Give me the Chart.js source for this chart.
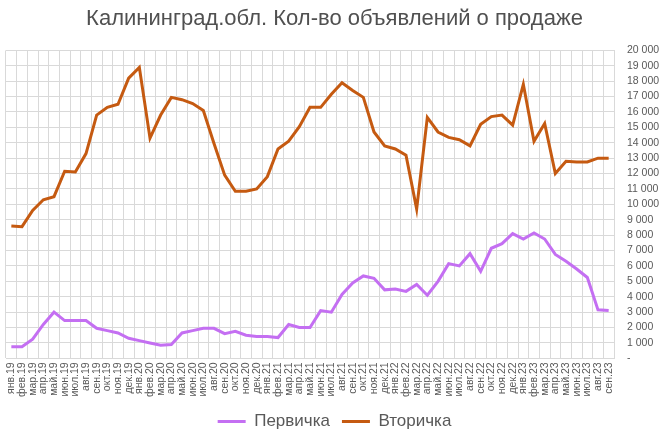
<!DOCTYPE html>
<html>
<head>
<meta charset="utf-8">
<script src="https://cdn.jsdelivr.net/npm/chart.js@4"></script>
<style>
    html, body { margin: 0; padding: 0; background: #ffffff; }
    #wrap { width: 667px; height: 440px; }
</style>
</head>
<body>
<div id="wrap"><canvas id="grafico" width="667" height="440"></canvas></div>
<script>
const meses = [
    "янв.19", "фев.19", "мар.19", "апр.19", "май.19", "июн.19", "июл.19", "авг.19", "сен.19", "окт.19", "ноя.19", "дек.19",
    "янв.20", "фев.20", "мар.20", "апр.20", "май.20", "июн.20", "июл.20", "авг.20", "сен.20", "окт.20", "ноя.20", "дек.20",
    "янв.21", "фев.21", "мар.21", "апр.21", "май.21", "июн.21", "июл.21", "авг.21", "сен.21", "окт.21", "ноя.21", "дек.21",
    "янв.22", "фев.22", "мар.22", "апр.22", "май.22", "июн.22", "июл.22", "авг.22", "сен.22", "окт.22", "ноя.22", "дек.22",
    "янв.23", "фев.23", "мар.23", "апр.23", "май.23", "июн.23", "июл.23", "авг.23", "сен.23"
];

const pervichka = [
    760, 760, 1250, 2200, 3000, 2450, 2450, 2450, 1950, 1800, 1650, 1300,
    1150, 1000, 850, 900, 1650, 1800, 1950, 1950, 1600, 1750, 1500, 1420,
    1420, 1350, 2200, 2000, 2000, 3100, 3000, 4150, 4900, 5350, 5200, 4450,
    4500, 4350, 4800, 4100, 5000, 6150, 6000, 6800, 5650, 7150, 7450, 8100,
    7750, 8150, 7750, 6750, 6300, 5800, 5250, 3150, 3100
];

const vtorichka = [
    8600, 8550, 9600, 10300, 10500, 12150, 12100, 13300, 15800, 16300, 16500, 18200,
    18900, 14300, 15800, 16950, 16800, 16550, 16100, 13950, 11900, 10850, 10850, 11000,
    11800, 13600, 14100, 15050, 16300, 16300, 17150, 17900, 17400, 16950, 14700, 13800,
    13600, 13200, 9700, 15650, 14700, 14350, 14200, 13800, 15200, 15700, 15800, 15150,
    17800, 14100, 15250, 12000, 12800, 12750, 12750, 13000, 13000
];

const eixoY = { min: 0, max: 20000, passo: 1000 };

const corGrade = "#d9d9d9";
const corTexto = "#595959";

function formatarMilhar(v) {
    if (v === 0) return "-";
    return String(v).replace(/\B(?=(\d{3})+(?!\d))/g, " ");
}

new Chart(document.getElementById("grafico"), {
    type: "line",
    data: {
        labels: meses,
        datasets: [{
            label: "Первичка",
            data: pervichka,
            borderColor: "#c46ff2",
            backgroundColor: "#c46ff2",
            borderWidth: 3,
            pointRadius: 0,
            pointStyle: "line",
            tension: 0
        }, {
            label: "Вторичка",
            data: vtorichka,
            borderColor: "#c55a11",
            backgroundColor: "#c55a11",
            borderWidth: 3,
            pointRadius: 0,
            pointStyle: "line",
            tension: 0
        }]
    },
    options: {
        responsive: false,
        animation: false,
        layout: {
            padding: { left: 6, right: 4, top: 0, bottom: 0 }
        },
        plugins: {
            title: {
                display: true,
                text: "Калининград.обл. Кол-во объявлений о продаже",
                color: "#505050",
                font: { family: "Liberation Sans", size: 22, weight: "normal" },
                padding: { top: 6, bottom: 18 }
            },
            legend: {
                position: "bottom",
                labels: {
                    color: corTexto,
                    font: { family: "Liberation Sans", size: 17 },
                    usePointStyle: true,
                    pointStyleWidth: 28,
                    boxHeight: 17,
                    padding: 12
                }
            },
            tooltip: { enabled: false }
        },
        scales: {
            x: {
                offset: true,
                grid: { color: corGrade, offset: true, drawTicks: false },
                border: { color: corGrade },
                ticks: {
                    color: corTexto,
                    font: { family: "Liberation Sans", size: 10.5 },
                    minRotation: 90,
                    maxRotation: 90,
                    autoSkip: false,
                    padding: 4
                }
            },
            y: {
                position: "right",
                min: eixoY.min,
                max: eixoY.max,
                afterFit: function (escala) { escala.width = 49; },
                grid: { color: corGrade, drawTicks: false },
                border: { color: corGrade },
                ticks: {
                    stepSize: eixoY.passo,
                    autoSkip: false,
                    color: corTexto,
                    font: { family: "Liberation Sans", size: 10.5 },
                    padding: 13,
                    callback: function (v) { return formatarMilhar(v); }
                }
            }
        }
    }
});
</script>
</body>
</html>
